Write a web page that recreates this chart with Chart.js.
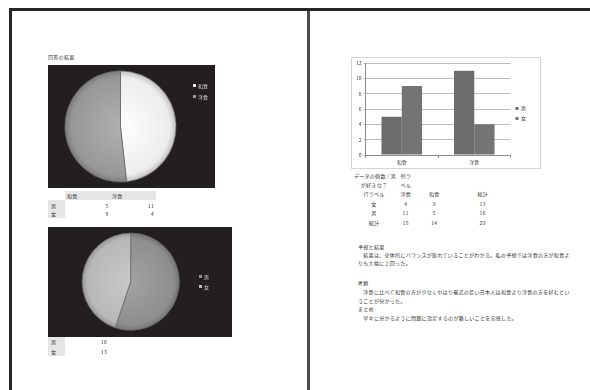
<!DOCTYPE html>
<html lang="ja">
<head>
<meta charset="utf-8">
<script src="https://cdn.jsdelivr.net/npm/chart.js@4.4.0/dist/chart.umd.min.js"></script>
<style>
  body { margin: 0; width: 590px; height: 390px; background: #fff; position: relative; overflow: hidden;
         font-family: "Noto Sans CJK JP", sans-serif; color: #333; }
  .rule { position: absolute; }
  .t { position: absolute; font-size: 5px; line-height: 8px; height: 8px; white-space: nowrap; letter-spacing: 0.3px; }
  .c { transform: translateX(-50%); }
  .r { transform: translateX(-100%); }
  .cell { position: absolute; background: #e6e6e6; }
  .box { position: absolute; }
  .lg { position: absolute; font-size: 5px; line-height: 8px; color: #d8d8d8; white-space: nowrap; }
  .lg i { display: inline-block; width: 3px; height: 3px; margin-right: 2px; vertical-align: 1px; }
</style>
</head>
<body>

<!-- ページの枠 -->
<div class="rule" style="left:10px;top:8px;width:580px;height:3px;background:#262626"></div>
<div class="rule" style="left:9px;top:8px;width:3px;height:382px;background:#262626"></div>
<div class="rule" style="left:307px;top:11px;width:3px;height:379px;background:#4d4d4d"></div>

<!-- 左ページ -->
<div class="t" style="left:48px;top:53px">回答の結果</div>

<div class="box" style="left:48px;top:65px;width:167px;height:123px;background:#231f20">
  <canvas id="pie1"></canvas>
</div>
<div class="lg" style="left:193px;top:82px"><i style="background:#e6e6e6"></i>和食</div>
<div class="lg" style="left:193px;top:92.5px"><i style="background:#9a9a9a"></i>洋食</div>

<div class="cell" style="left:65px;top:191px;width:91px;height:9px"></div>
<div class="cell" style="left:48px;top:200px;width:17px;height:18px"></div>
<div class="t" style="left:67px;top:191.5px">和食</div>
<div class="t" style="left:112px;top:191.5px">洋食</div>
<div class="t" style="left:51px;top:201.5px">男</div>
<div class="t" style="left:51px;top:210.3px">女</div>
<div class="t r" style="left:108.5px;top:201.5px" id="m1"></div>
<div class="t r" style="left:154px;top:201.5px" id="m2"></div>
<div class="t r" style="left:108.5px;top:210.3px" id="w1"></div>
<div class="t r" style="left:154px;top:210.3px" id="w2"></div>

<div class="box" style="left:48px;top:227px;width:184px;height:110px;background:#231f20">
  <canvas id="pie2"></canvas>
</div>
<div class="lg" style="left:199px;top:273.3px"><i style="background:#8e8e8e"></i>男</div>
<div class="lg" style="left:199px;top:282.7px"><i style="background:#bdbdbd"></i>女</div>

<div class="cell" style="left:48px;top:337px;width:17px;height:19px"></div>
<div class="t" style="left:51px;top:337.7px">男</div>
<div class="t" style="left:51px;top:347.7px">女</div>
<div class="t r" style="left:107px;top:337.7px" id="s1"></div>
<div class="t r" style="left:107px;top:347.7px" id="s2"></div>

<!-- 右ページ -->
<div class="box" style="left:351px;top:57px;width:190px;height:112px;border:1px solid #d4d4d4;box-sizing:border-box">
  <canvas id="bar"></canvas>
</div>

<div class="t c" style="left:375px;top:172px">データの個数 / 男</div>
<div class="t c" style="left:374px;top:181px">が好きな？</div>
<div class="t c" style="left:405.7px;top:172px">列ラ</div>
<div class="t c" style="left:405.7px;top:181px">ベル</div>
<div id="pivot"></div>

<div class="t" style="left:358px;top:242.7px">予想と結果</div>
<div class="t" style="left:358px;top:251px">　結果は、全体的にバランスが取れていることがわかる。私の予想では洋食の方が和食よ</div>
<div class="t" style="left:358px;top:259.3px">りも大幅に上回った。</div>
<div class="t" style="left:358px;top:278.7px">考察</div>
<div class="t" style="left:358px;top:287.7px">　洋食に比べて和食の方が少なくやはり最近の若い日本人は和食より洋食の方を好むとい</div>
<div class="t" style="left:358px;top:297px">うことが分かった。</div>
<div class="t" style="left:358px;top:305.3px">まとめ</div>
<div class="t" style="left:358px;top:314.3px">　早々に分かるように問題に設定するのが難しいことを実感した。</div>

<script>
// アンケートの集計
const foods = ['和食', '洋食'];
const sexes = ['男', '女'];
const men = [5, 11];     // 男: 和食, 洋食
const women = [9, 4];    // 女: 和食, 洋食
const yTicks = [0, 2, 4, 6, 8, 10, 12];

const foodTotals = foods.map((f, i) => men[i] + women[i]);
const sexTotals = [16, 13];

Chart.defaults.font.family = '"Noto Sans CJK JP", sans-serif';
Chart.defaults.animation = false;

// 表の数字
document.getElementById('m1').textContent = men[0];
document.getElementById('m2').textContent = men[1];
document.getElementById('w1').textContent = women[0];
document.getElementById('w2').textContent = women[1];
document.getElementById('s1').textContent = sexTotals[0];
document.getElementById('s2').textContent = sexTotals[1];

// ピボットテーブル（洋食, 和食 の順）
const pivotRows = [
  ['行ラベル', '洋食', '和食', '総計'],
  ['女', women[1], women[0], women[0] + women[1]],
  ['男', men[1], men[0], men[0] + men[1]],
  ['総計', foodTotals[1], foodTotals[0], foodTotals[0] + foodTotals[1]]
];
const colX = [374, 405.7, 434.3, 482.7];
const rowY = [190.3, 200, 209.3, 218.7];
let html = '';
pivotRows.forEach((row, r) => {
  row.forEach((v, c) => {
    html += '<div class="t c" style="left:' + colX[c] + 'px;top:' + rowY[r] + 'px">' + v + '</div>';
  });
});
document.getElementById('pivot').innerHTML = html;

// 立体っぽい円グラフの塗り（[中心, 外側, ふち] を扇ごとに）
function shade(tones) {
  return (c) => {
    const t = tones[c.dataIndex % tones.length];
    const a = c.chart.chartArea;
    if (!a) return t[1];
    const cx = (a.left + a.right) / 2, cy = (a.top + a.bottom) / 2;
    const r = Math.min(a.right - a.left, a.bottom - a.top) / 2;
    const g = c.chart.ctx.createRadialGradient(cx, cy, 0, cx, cy, r);
    g.addColorStop(0, t[0]);
    g.addColorStop(0.88, t[1]);
    g.addColorStop(1, t[2]);
    return g;
  };
}

const pieOpts = (pad) => ({
  responsive: false,
  layout: { padding: pad },
  plugins: { legend: { display: false }, tooltip: { enabled: false } }
});

const pie1 = document.getElementById('pie1');
pie1.width = 167; pie1.height = 123;
new Chart(pie1, {
  type: 'pie',
  data: {
    labels: foods,
    datasets: [{
      data: foodTotals,
      backgroundColor: shade([['#ffffff', '#ececec', '#bdbdbd'], ['#b0b0b0', '#979797', '#7a7a7a']]),
      borderColor: '#6a6a6a',
      borderWidth: 0.8
    }]
  },
  options: pieOpts({ left: 0, right: 22, top: 5.5, bottom: 5.5 })
});

const pie2 = document.getElementById('pie2');
pie2.width = 184; pie2.height = 110;
new Chart(pie2, {
  type: 'pie',
  data: {
    labels: sexes,
    datasets: [{
      data: sexTotals,
      backgroundColor: shade([['#a2a2a2', '#8e8e8e', '#727272'], ['#c8c8c8', '#b8b8b8', '#969696']]),
      borderColor: '#6a6a6a',
      borderWidth: 0.8
    }]
  },
  options: pieOpts({ left: 0, right: 18.6, top: 5.7, bottom: 6.3 })
});

// 男女別の棒グラフ
const bar = document.getElementById('bar');
bar.width = 188; bar.height = 110;
new Chart(bar, {
  type: 'bar',
  data: {
    labels: foods,
    datasets: [
      { label: '男', data: men, backgroundColor: '#6c6c6f' },
      { label: '女', data: women, backgroundColor: '#747477' }
    ]
  },
  options: {
    responsive: false,
    layout: { padding: { left: 2, right: 4, top: 3, bottom: 2 } },
    datasets: { bar: { categoryPercentage: 0.56, barPercentage: 1.0 } },
    scales: {
      x: {
        grid: { display: true, drawOnChartArea: false, tickLength: 3, color: '#8c8c8c' },
        border: { color: '#8c8c8c' },
        ticks: { font: { size: 5 }, color: '#444', padding: 1 }
      },
      y: {
        min: 0, max: 12,
        afterBuildTicks: (s) => { s.ticks = yTicks.map(v => ({ value: v })); },
        grid: { color: '#bdbdbd', tickLength: 2 },
        border: { color: '#8c8c8c' },
        ticks: { font: { size: 5 }, color: '#444', padding: 2 }
      }
    },
    plugins: {
      tooltip: { enabled: false },
      legend: {
        position: 'right',
        labels: { boxWidth: 3, boxHeight: 3, padding: 5, font: { size: 5 }, color: '#333' }
      }
    }
  }
});
</script>
</body>
</html>
